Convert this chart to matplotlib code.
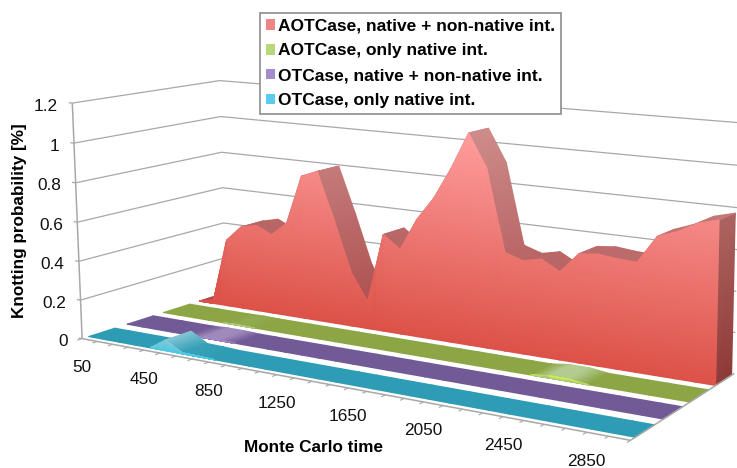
"""Knotting probability over Monte Carlo time, drawn as a 3D area chart."""

import matplotlib

matplotlib.use("Agg")
import matplotlib.pyplot as plt
import numpy as np
from matplotlib.colors import LinearSegmentedColormap, Normalize
from matplotlib.patches import Patch

plt.rcParams["font.family"] = ["Liberation Sans", "DejaVu Sans"]

times = np.arange(50, 3051, 100)
aot_full = [0.0, 0.02, 0.366, 0.45, 0.47, 0.43, 0.505, 0.765, 0.80, 0.555, 0.29, 0.145,
            0.51, 0.445, 0.61, 0.73, 0.89, 1.075, 0.91, 0.50, 0.47, 0.49, 0.44, 0.54,
            0.55, 0.54, 0.535, 0.67, 0.705, 0.755, 0.78]
aot_native = [0.0, 0.0, 0.0, 0.0, 0.0, 0.002, 0.0, 0.0, 0.0, 0.0, 0.0, 0.0, 0.0, 0.0, 0.0, 0.0,
              0.0, 0.0, 0.0, 0.0, 0.0, 0.0, 0.0, 0.012, 0.012, 0.0, 0.0, 0.0, 0.0, 0.0, 0.0]
ot_full = [0.0, 0.0, 0.0, 0.0, 0.0, 0.004, 0.004, 0.0, 0.0, 0.0, 0.0, 0.0, 0.0, 0.0, 0.0, 0.0,
           0.0, 0.0, 0.0, 0.0, 0.0, 0.0, 0.0, 0.0, 0.0, 0.0, 0.0, 0.0, 0.0, 0.0, 0.0]
ot_native = [0.0, 0.0, 0.0, 0.0, 0.0, 0.055, 0.006, 0.004, 0.0, 0.0, 0.0, 0.0, 0.0, 0.0, 0.0, 0.0,
             0.0, 0.0, 0.0, 0.0, 0.0, 0.0, 0.0, 0.0, 0.0, 0.0, 0.0, 0.0, 0.0, 0.0, 0.0]
y_ticks = [0, 0.2, 0.4, 0.6, 0.8, 1, 1.2]
labels = ["AOTCase, native + non-native int.", "AOTCase, only native int.",
          "OTCase, native + non-native int.", "OTCase, only native int."]

# back to front: values, depth range, front colours, ribbon colours, colour scale top
SERIES = [
    (aot_full, (0.80, 0.97), ("#DC5248", "#FF9E9E"), ("#A94A4A", "#CE8C8A"), 1.08),
    (aot_native, (0.54, 0.73), ("#A9C47A", "#CBEB5C"), ("#8CA646", "#B4CB90"), 0.012),
    (ot_full, (0.29, 0.47), ("#8D76AE", "#A58CCB"), ("#725A96", "#A08ABC"), 0.004),
    (ot_native, (0.04, 0.21), ("#4CC8E4", "#8CCBDA"), ("#2E9CB4", "#84C6D6"), 0.055),
]
GRID = "#A8A8A8"


def fit_camera():
    # axis box corners (time, depth, value) -> pixels
    world = [(0, 0, 0), (1, 0, 0), (0, 1, 0), (1, 1, 0), (0, 0, 1.2), (0, 1, 1.2), (1, 1, 1.2)]
    pixels = [(82, 338), (631, 440), (225.5, 293), (734, 374), (72, 104), (220, 80), (740, 122.5)]
    rows, rhs = [], []
    for (x, y, z), (u, v) in zip(world, pixels):
        rows.append([x, y, z, 1, 0, 0, 0, 0, -u * x, -u * y, -u * z])
        rows.append([0, 0, 0, 0, x, y, z, 1, -v * x, -v * y, -v * z])
        rhs += [u, v]
    params = np.linalg.lstsq(np.array(rows, float), np.array(rhs, float), rcond=None)[0]
    return np.append(params, 1.0).reshape(3, 4)


CAMERA = fit_camera()


def project(t, d, z):
    t, d, z = np.broadcast_arrays(t, d, z)
    points = np.stack([t, d, z, np.ones_like(t, dtype=float)], axis=-1)
    out = points @ CAMERA.T
    return out[..., 0] / out[..., 2], out[..., 1] / out[..., 2]


def gray_line(ax, t, d, z, lw=0.9, zorder=1):
    xs, ys = project(np.array(t, float), np.array(d, float), np.array(z, float))
    ax.plot(xs, ys, color=GRID, lw=lw, zorder=zorder, solid_capstyle="butt")


def raised_spans(values):
    # index ranges around the non-zero values, the flat parts have no front face
    raised = np.convolve(values > 0, [1, 1, 1], mode="same") > 0
    spans, start = [], None
    for i, flag in enumerate(raised):
        if flag and start is None:
            start = i
        if start is not None and (not flag or i == len(raised) - 1):
            spans.append((start, i + 1 if flag else i))
            start = None
    return spans


def draw_series(ax, values, depth, front_colors, ribbon_colors, top, zorder):
    values = np.array(values)
    t = np.linspace(0, 1, len(values))
    front_cmap = LinearSegmentedColormap.from_list("front", front_colors)
    ribbon_cmap = LinearSegmentedColormap.from_list("ribbon", ribbon_colors)
    norm = Normalize(0, top)

    # right end cap
    if values[-1] > 0:
        cap_t = np.ones((2, 2))
        cap_d = np.array([[depth[0], depth[1]]] * 2)
        cap_z = np.array([[values[-1], values[-1]], [0, 0]])
        cap_x, cap_y = project(cap_t, cap_d, cap_z)
        cap_cmap = LinearSegmentedColormap.from_list("cap", ["#8E3A38", "#AD6460"])
        ax.pcolormesh(cap_x, cap_y, cap_z, cmap=cap_cmap, shading="gouraud", zorder=zorder)

    # top surface, running from the front edge to the back edge
    rib_t = np.vstack([t, t])
    rib_d = np.vstack([np.full_like(t, depth[1]), np.full_like(t, depth[0])])
    rib_z = np.vstack([values, values])
    rib_x, rib_y = project(rib_t, rib_d, rib_z)
    ax.pcolormesh(rib_x, rib_y, rib_z, cmap=ribbon_cmap, norm=norm, shading="gouraud",
                  zorder=zorder + 0.1)

    # front face, with the colour following the height
    frac = np.linspace(0, 1, 24)[:, None]
    for start, stop in raised_spans(values):
        face_z = frac * values[start:stop]
        face_x, face_y = project(np.tile(t[start:stop], (24, 1)), depth[0], face_z)
        ax.pcolormesh(face_x, face_y, face_z, cmap=front_cmap, norm=norm, shading="gouraud",
                      zorder=zorder + 0.2)


def main():
    fig = plt.figure(figsize=(7.37, 4.68), dpi=100)
    ax = fig.add_axes([0, 0, 1, 1])
    ax.set_xlim(0, 737)
    ax.set_ylim(468, 0)
    ax.axis("off")

    # walls
    for z in y_ticks[1:]:
        gray_line(ax, [-0.008, 0, 0, 1], [0, 0, 1, 1], [z, z, z, z])
    gray_line(ax, [-0.008, 0], [0, 0], [0, 0])
    gray_line(ax, [0, 0], [0, 0], [0, 1.2], lw=1.1)
    gray_line(ax, [0, 1, 1], [0, 0, 1], [0, 0, 0], lw=1.1, zorder=6)
    for k in range(len(times)):
        t = k / (len(times) - 1)
        gray_line(ax, [t, t], [0, -0.03], [0, 0], lw=0.8)
        if k % 4 == 0 and k < 30:
            x, y = project(t, 0, 0)
            ax.text(x, y + 29, str(times[k]), ha="center", va="center", fontsize=12.4, color="#111111")
    for z in y_ticks:
        x, y = project(0, 0, z)
        ax.text(x - 14.5, y + 3, f"{z:g}", ha="right", va="center", fontsize=12.4, color="#111111")

    for n, (values, depth, front, ribbon, top) in enumerate(SERIES):
        draw_series(ax, values, depth, front, ribbon, top, zorder=2 + n)

    ax.text(314, 447, "Monte Carlo time", ha="center", va="center", fontsize=12.3, fontweight="bold")
    ax.text(20, 220.5, "Knotting probability [%]", rotation=90, ha="center", va="center",
            fontsize=12.3, fontweight="bold")

    handles = [Patch(facecolor=c, edgecolor="none") for c in ["#F08585", "#B8D67A", "#A58CCB", "#5ACDEE"]]
    legend = ax.legend(handles, labels, loc="upper left", bbox_to_anchor=(260, 13),
                       bbox_transform=ax.transData, prop={"size": 12.5, "weight": "bold"},
                       frameon=True, fancybox=False, framealpha=1, edgecolor="#8C8C8C",
                       borderaxespad=0, borderpad=0.33, labelspacing=0.56, handlelength=0.55,
                       handleheight=0.55, handletextpad=0.15)
    legend.get_frame().set_linewidth(1.2)
    legend.set_zorder(10)

    fig.savefig("out.png", dpi=100)


if __name__ == "__main__":
    main()
